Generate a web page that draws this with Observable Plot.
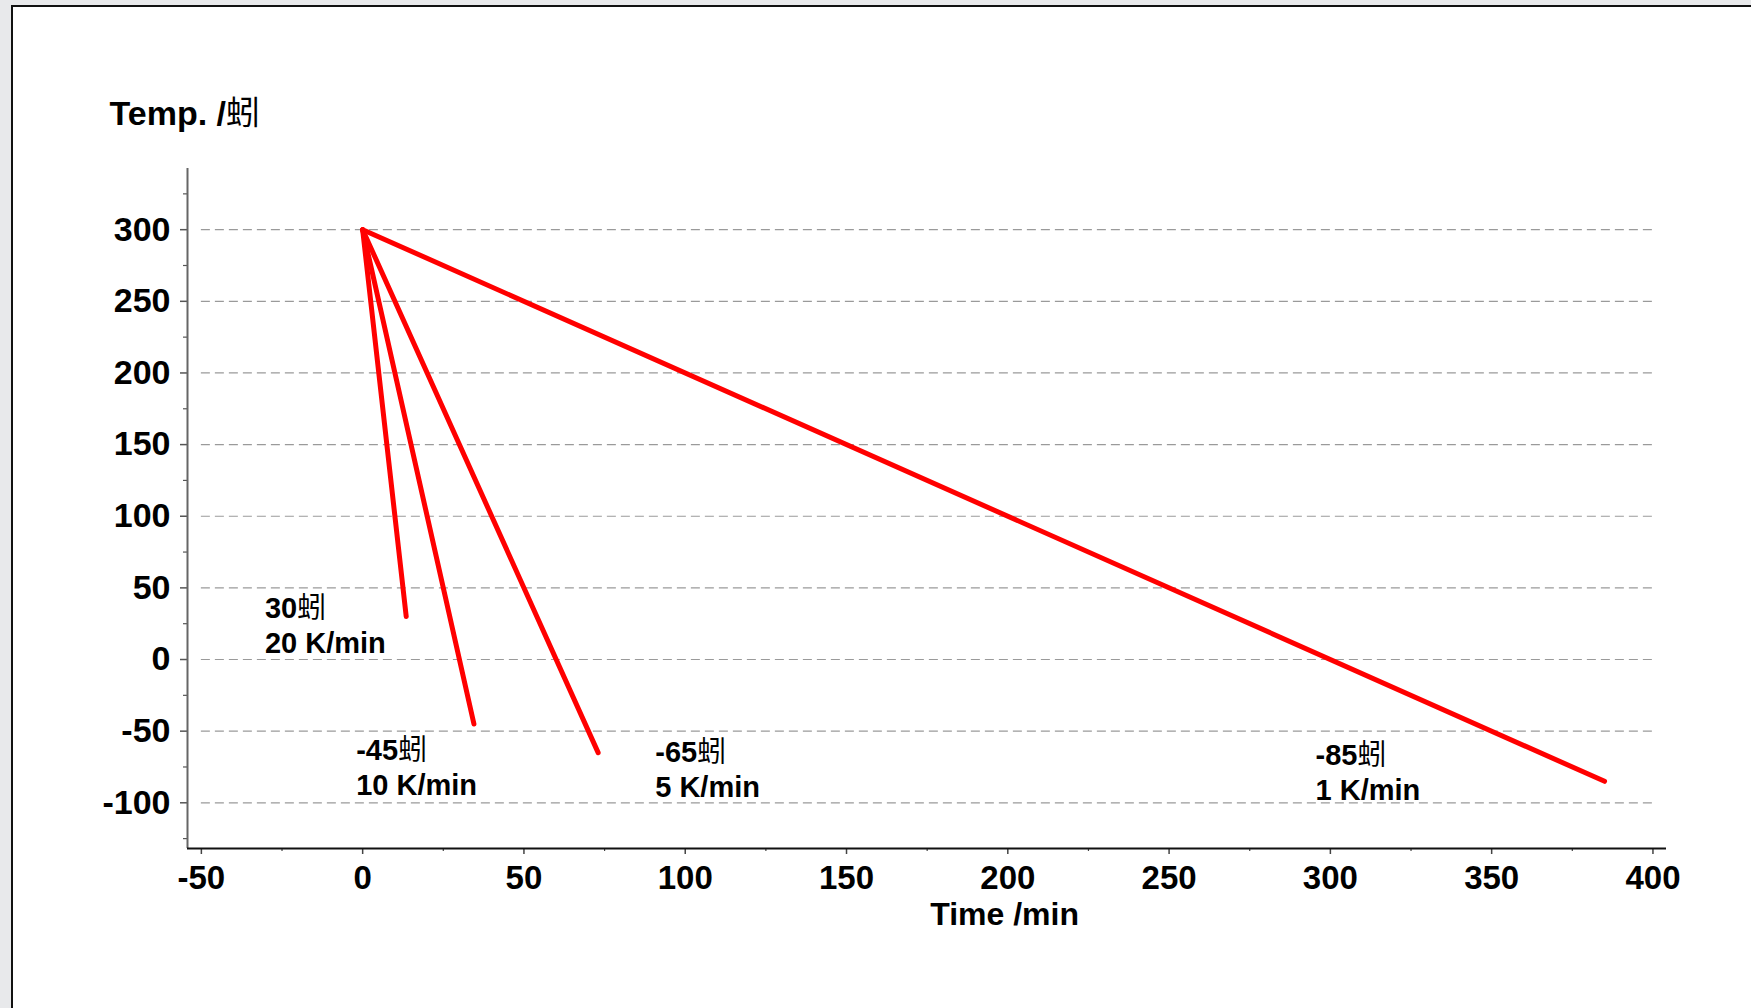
<!DOCTYPE html>
<html><head><meta charset="utf-8">
<script src="https://cdn.jsdelivr.net/npm/d3@7"></script>
<script src="https://cdn.jsdelivr.net/npm/@observablehq/plot@0.6"></script>
<style>
html,body{margin:0;padding:0;background:#e8e9eb;width:1751px;height:1008px;overflow:hidden;}
#panel{position:absolute;left:11px;top:5px;width:1800px;height:1100px;background:#fff;border-left:2px solid #111;border-top:2px solid #111;}
#chart{position:absolute;left:0;top:0;}
g[aria-label="rate-labels"]{letter-spacing:1.2px;}
</style></head><body>
<div id="panel"></div><div id="chart"></div>
<script>
// Data
const startTime = 0;
const startTemp = 300;
const endTemps = [30, -45, -65, -85];
const rates = [20, 10, 5, 1];
const endTimes = [13.5, 34.5, 73, 385];
// annotation anchor (data units): left edge / baseline of the second text line
const labelTimes = [-30.3, -2.0, 90.7, 295.4];
const labelTemps = [4.5, -94.9, -96.1, -97.9];
const yTicks = [-100, -50, 0, 50, 100, 150, 200, 250, 300];
const yMinor = [-125, -75, -25, 25, 75, 125, 175, 225, 275, 325];
const xTicks = [-50, 0, 50, 100, 150, 200, 250, 300, 350, 400];
const xMinor = [-25, 25, 75, 125, 175, 225, 275, 325, 375];
const xDomain = [-54.3, 404.2];
const yDomain = [-131.9, 342.7];
const unit = "蚓";

const lineRows = [];
endTemps.forEach((t, i) => {
  lineRows.push({series: i, time: startTime, temp: startTemp});
  lineRows.push({series: i, time: endTimes[i], temp: t});
});
const labelRows = endTemps.map((t, i) => ({
  time: labelTimes[i], temp: labelTemps[i], text: `${t}${unit}\n${rates[i]} K/min`
}));

const fmt = d => String(d);
const font = "'Liberation Sans', Arial, 'Noto Sans CJK SC', sans-serif";
const chart = Plot.plot({
  width: 1751, height: 1008,
  marginLeft: 187, marginRight: 85, marginTop: 168, marginBottom: 160,
  style: {fontFamily: font, background: "transparent", color: "#000"},
  x: {domain: xDomain},
  y: {domain: yDomain},
  marks: [
    Plot.ruleY(yTicks, {x1: xTicks[0], x2: xTicks[xTicks.length - 1], stroke: "#9a9a9a", strokeWidth: 1.2, strokeDasharray: "9,5"}),
    Plot.axisY(yTicks, {tickSize: 7, tickPadding: 10, fontSize: 34, fontWeight: "bold", label: null, tickFormat: fmt, stroke: "#555", strokeWidth: 1.5}),
    Plot.axisY(yMinor, {tickSize: 4, tickFormat: () => "", label: null, stroke: "#555", strokeWidth: 1.2}),
    Plot.axisX(xTicks, {tickSize: 6, tickPadding: 11, fontSize: 33, fontWeight: "bold", label: null, tickFormat: fmt, stroke: "#444", strokeWidth: 1.5}),
    Plot.axisX(xMinor, {tickSize: 3, tickFormat: () => "", label: null, stroke: "#444", strokeWidth: 1.2}),
    Plot.ruleX([xDomain[0]], {stroke: "#666", strokeWidth: 2}),
    Plot.ruleY([yDomain[0]], {stroke: "#111", strokeWidth: 2}),
    Plot.line(lineRows, {x: "time", y: "temp", z: "series", stroke: "#ff0000", strokeWidth: 5, strokeLinecap: "round"}),
    Plot.text(labelRows, {x: "time", y: "temp", text: "text", textAnchor: "start", lineAnchor: "bottom", lineHeight: 1.21, fontSize: 29, fontWeight: "bold", ariaLabel: "rate-labels"}),
    Plot.text(["Time /min"], {x: 199, frameAnchor: "bottom", dy: 76, lineAnchor: "bottom", fontSize: 32, fontWeight: "bold"}),
    Plot.text([`Temp. /${unit}`], {frameAnchor: "top-left", dx: -78, dy: -44, textAnchor: "start", lineAnchor: "bottom", fontSize: 34, fontWeight: "bold"})
  ]
});
document.getElementById("chart").appendChild(chart);

// render the unit glyph in regular weight, as in the original
const ns = "http://www.w3.org/2000/svg";
const walker = document.createTreeWalker(chart, NodeFilter.SHOW_TEXT);
const hits = [];
while (walker.nextNode()) if (walker.currentNode.nodeValue.includes(unit)) hits.push(walker.currentNode);
hits.forEach(node => {
  const parts = node.nodeValue.split(unit);
  const frag = document.createDocumentFragment();
  parts.forEach((p, k) => {
    if (p) frag.appendChild(document.createTextNode(p));
    if (k < parts.length - 1) {
      const ts = document.createElementNS(ns, "tspan");
      ts.setAttribute("font-weight", "normal");
      ts.textContent = unit;
      frag.appendChild(ts);
    }
  });
  node.parentNode.replaceChild(frag, node);
});
</script>
</body></html>
